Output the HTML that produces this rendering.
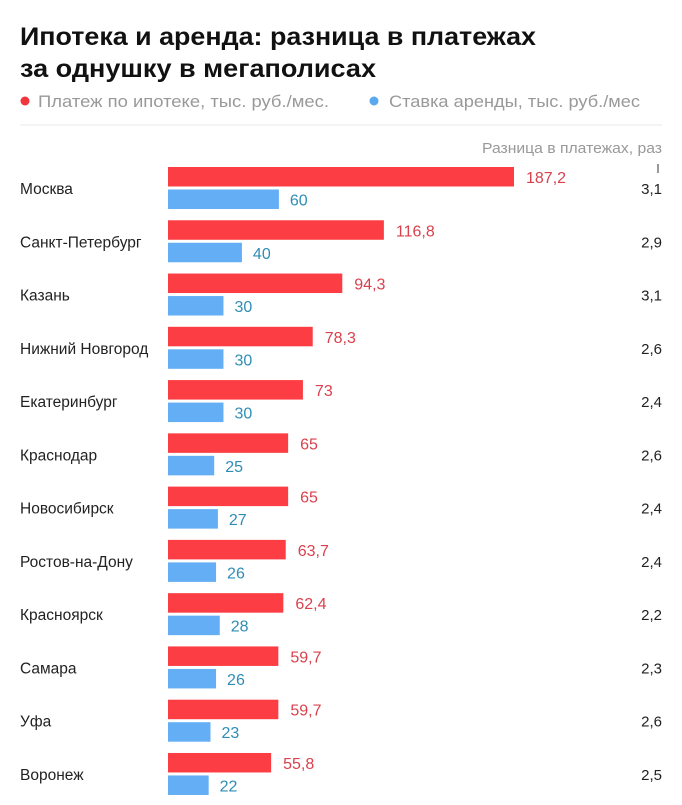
<!DOCTYPE html>
<html><head><meta charset="utf-8"><style>
body{margin:0;background:#fff;width:682px;height:800px;overflow:hidden;font-family:"Liberation Sans",sans-serif}
</style></head><body>
<svg id="chart" width="682" height="800" xmlns="http://www.w3.org/2000/svg" font-family="Liberation Sans, sans-serif">
<text x="20" y="45" font-size="25" font-weight="bold" fill="#111" textLength="516" lengthAdjust="spacingAndGlyphs">Ипотека и аренда: разница в платежах</text>
<text x="20" y="77" font-size="25" font-weight="bold" fill="#111" textLength="356" lengthAdjust="spacingAndGlyphs">за однушку в мегаполисах</text>
<g>
<circle cx="25" cy="101" r="4.5" fill="#f0353c"/>
<text x="38" y="107" font-size="17" fill="#999" textLength="291" lengthAdjust="spacingAndGlyphs">Платеж по ипотеке, тыс. руб./мес.</text>
<circle cx="374" cy="101" r="4.5" fill="#5aa8ef"/>
<text x="389" y="107" font-size="17" fill="#999" textLength="251" lengthAdjust="spacingAndGlyphs">Ставка аренды, тыс. руб./мес</text>
</g>
<line x1="20" y1="125" x2="662" y2="125" stroke="#e8e8e8" stroke-width="1"/>
<text x="482" y="153" font-size="15" fill="#999" textLength="180" lengthAdjust="spacingAndGlyphs">Разница в платежах, раз</text>
<line x1="658" y1="164" x2="658" y2="173" stroke="#333" stroke-width="1"/>
<g id="rows"></g>
</svg>
<script>
const cities=["Москва","Санкт-Петербург","Казань","Нижний Новгород","Екатеринбург","Краснодар","Новосибирск","Ростов-на-Дону","Красноярск","Самара","Уфа","Воронеж"];
const mortgage=[187.2,116.8,94.3,78.3,73,65,65,63.7,62.4,59.7,59.7,55.8];
const rent=[60,40,30,30,30,25,27,26,28,26,23,22];
const ratios=["3,1","2,9","3,1","2,6","2,4","2,6","2,4","2,4","2,2","2,3","2,6","2,5"];
const NS="http://www.w3.org/2000/svg";
const x0=168, k=(514-168)/187.2;
const xs=v=>v*k;
const rowY=i=>167+i*53.27;
const fmt=v=>String(v).replace('.',',');
const g=document.getElementById('rows');
function mk(t,a){const e=document.createElementNS(NS,t);for(const p in a)e.setAttribute(p,a[p]);g.appendChild(e);return e;}
cities.forEach((c,i)=>{
 const y=rowY(i);
 let e=mk('text',{x:20,y:y+27,'font-size':15.5,fill:'#222'});e.textContent=c;
 
 
 e=mk('rect',{x:x0,y:y,width:xs(mortgage[i]),height:19.5,fill:'#fc3d43'});
 
 
 e=mk('rect',{x:x0,y:y+22.5,width:xs(rent[i]),height:19.5,fill:'#63aef5'});
 
 
 e=mk('text',{x:x0+xs(mortgage[i])+12,y:y+16,'font-size':16,fill:'#d9414c'});e.textContent=fmt(mortgage[i]);
 
 
 e=mk('text',{x:x0+xs(rent[i])+11,y:y+38.5,'font-size':16,fill:'#2f8db5'});e.textContent=fmt(rent[i]);
 
 
 e=mk('text',{x:662,y:y+27,'text-anchor':'end','font-size':15,fill:'#222'});e.textContent=ratios[i];
 
 
});
</script>
</body></html>
